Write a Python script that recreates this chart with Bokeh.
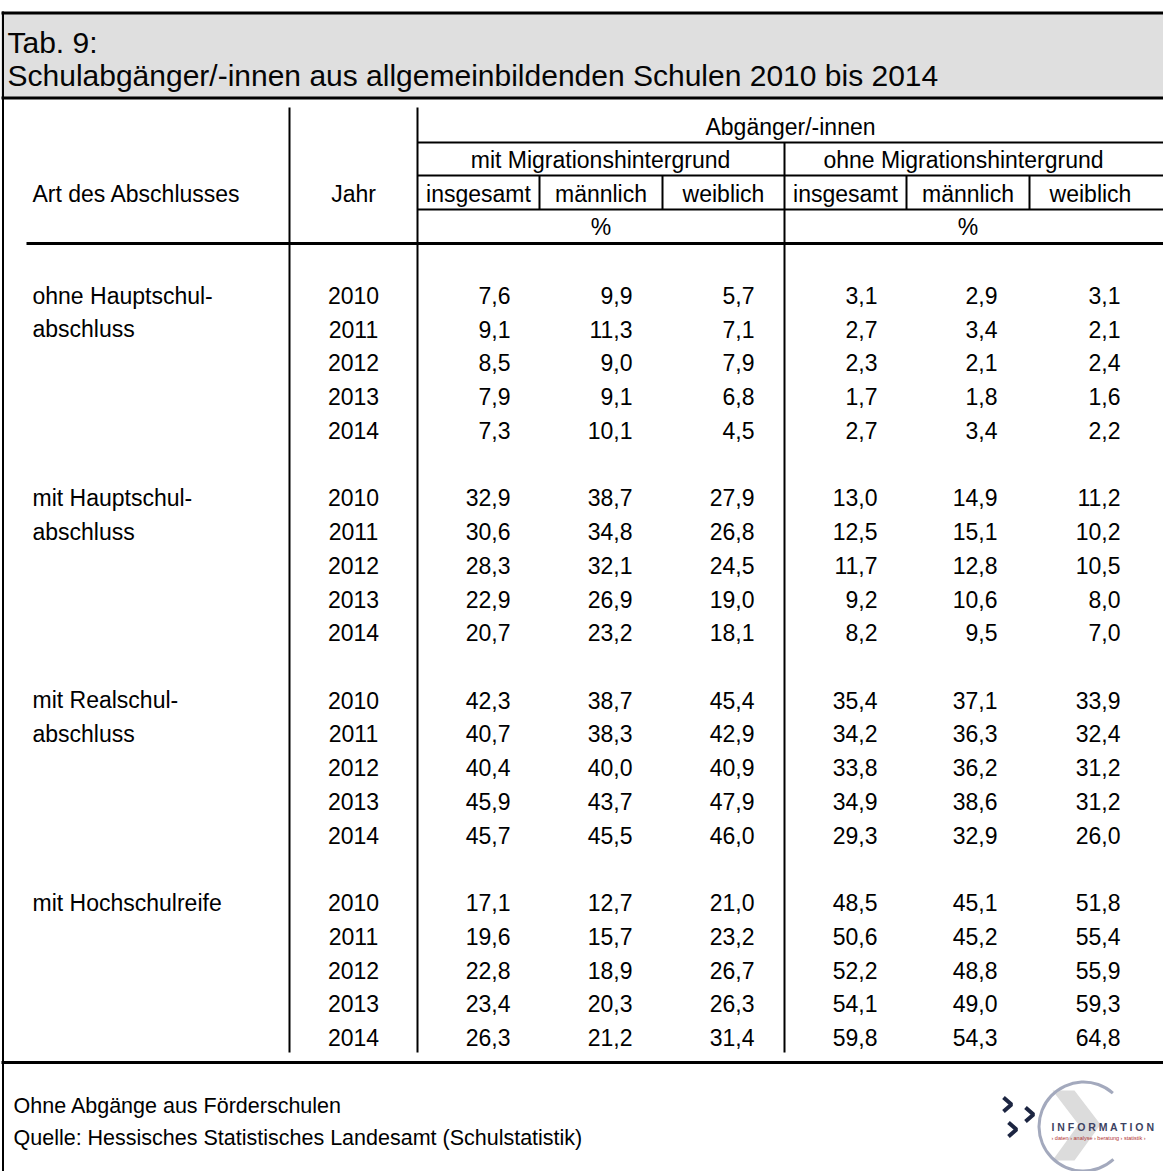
from bokeh.plotting import figure
from bokeh.models import Range1d, ColumnDataSource
from bokeh.embed import file_html
from bokeh.resources import INLINE
from bokeh.core.properties import value

# ---------------- data ----------------
title_line1 = "Tab. 9:"
title_line2 = "Schulabgänger/-innen aus allgemeinbildenden Schulen 2010 bis 2014"
stub_header = "Art des Abschlusses"
year_header = "Jahr"
top_header = "Abgänger/-innen"
group_headers = ["mit Migrationshintergrund", "ohne Migrationshintergrund"]
sub_headers = ["insgesamt", "männlich", "weiblich"]
unit_label = "%"
categories = [["ohne Hauptschul-", "abschluss"],
              ["mit Hauptschul-", "abschluss"],
              ["mit Realschul-", "abschluss"],
              ["mit Hochschulreife"]]
years = ["2010", "2011", "2012", "2013", "2014"]

mit_insgesamt = [7.6, 9.1, 8.5, 7.9, 7.3,
                 32.9, 30.6, 28.3, 22.9, 20.7,
                 42.3, 40.7, 40.4, 45.9, 45.7,
                 17.1, 19.6, 22.8, 23.4, 26.3]
mit_maennlich = [9.9, 11.3, 9.0, 9.1, 10.1,
                 38.7, 34.8, 32.1, 26.9, 23.2,
                 38.7, 38.3, 40.0, 43.7, 45.5,
                 12.7, 15.7, 18.9, 20.3, 21.2]
mit_weiblich = [5.7, 7.1, 7.9, 6.8, 4.5,
                27.9, 26.8, 24.5, 19.0, 18.1,
                45.4, 42.9, 40.9, 47.9, 46.0,
                21.0, 23.2, 26.7, 26.3, 31.4]
ohne_insgesamt = [3.1, 2.7, 2.3, 1.7, 2.7,
                  13.0, 12.5, 11.7, 9.2, 8.2,
                  35.4, 34.2, 33.8, 34.9, 29.3,
                  48.5, 50.6, 52.2, 54.1, 59.8]
ohne_maennlich = [2.9, 3.4, 2.1, 1.8, 3.4,
                  14.9, 15.1, 12.8, 10.6, 9.5,
                  37.1, 36.3, 36.2, 38.6, 32.9,
                  45.1, 45.2, 48.8, 49.0, 54.3]
ohne_weiblich = [3.1, 2.1, 2.4, 1.6, 2.2,
                 11.2, 10.2, 10.5, 8.0, 7.0,
                 33.9, 32.4, 31.2, 31.2, 26.0,
                 51.8, 55.4, 55.9, 59.3, 64.8]

footnote1 = "Ohne Abgänge aus Förderschulen"
footnote2 = "Quelle: Hessisches Statistisches Landesamt (Schulstatistik)"
logo_word = "I N F O R M A T I O N"
logo_sub = "› daten › analyse › beratung › statistik ›"

# ---------------- layout (reference pixel coordinates) ----------------
FONT = value("Liberation Sans")
BODY = "23px"
W, H = 1163, 1171

col_edges = [417, 539, 662, 784, 906, 1029, 1151]
value_right = [510, 632, 754, 877, 997, 1120]
row_y0 = 295.0
row_pitch = 33.73
line_end = 1170

p = figure(width=W, height=H, x_range=Range1d(0, W), y_range=Range1d(H, 0),
           output_backend="svg", toolbar_location=None, min_border=0,
           x_axis_type=None, y_axis_type=None, outline_line_color=None,
           background_fill_color="white", border_fill_color="white")
p.xgrid.visible = False
p.ygrid.visible = False

# title band
p.quad(left=[0], right=[line_end], top=[12], bottom=[98], fill_color="#dfdfdf", line_color=None)
p.segment(x0=[1, 1], y0=[12.5, 97.5], x1=[line_end, line_end], y1=[12.5, 97.5],
          line_color="black", line_width=3)
# left border
p.segment(x0=[2.5], y0=[11], x1=[2.5], y1=[1175], line_color="black", line_width=2)
p.text(x=[7, 7], y=[42, 75], text=[title_line1, title_line2], text_font=FONT,
       text_font_size="30px", text_color="#050505",
       text_align="left", text_baseline="middle")

# table rules
hx0 = [417, 417, 417, 26, 1]
hy = [142, 175, 209, 243, 1062]
hx1 = [line_end] * 5
hw = [2, 2, 2, 3, 3]
p.segment(x0=hx0, y0=hy, x1=hx1, y1=hy, line_color="black", line_width=hw)
vx = [289, 417, 784, 539, 662, 906, 1029]
vy0 = [107, 107, 142, 175, 175, 175, 175]
vy1 = [1052, 1052, 1052, 209, 209, 209, 209]
p.segment(x0=vx, y0=vy0, x1=vx, y1=vy1, line_color="black", line_width=2)

# header texts
hdr_x, hdr_y, hdr_t, hdr_a = [], [], [], []
hdr_x += [32, 353, 790]; hdr_y += [193, 193, 126]; hdr_t += [stub_header, year_header, top_header]
hdr_a += ["left", "center", "center"]
group_centers = [600, 963]
for g, gh in enumerate(group_headers):
    hdr_x.append(group_centers[g]); hdr_y.append(159); hdr_t.append(gh); hdr_a.append("center")
    hdr_x.append(col_edges[3 * g + 1] + (col_edges[3 * g + 2] - col_edges[3 * g + 1]) / 2)
    hdr_y.append(226); hdr_t.append(unit_label); hdr_a.append("center")
    for k, sh in enumerate(sub_headers):
        c = 3 * g + k
        hdr_x.append((col_edges[c] + col_edges[c + 1]) / 2)
        hdr_y.append(193); hdr_t.append(sh); hdr_a.append("center")
p.text(x="x", y="y", text="t", text_align="a",
       source=ColumnDataSource(dict(x=hdr_x, y=hdr_y, t=hdr_t, a=hdr_a)),
       text_font=FONT, text_font_size=BODY, text_color="black", text_baseline="middle")

# body
series = [mit_insgesamt, mit_maennlich, mit_weiblich, ohne_insgesamt, ohne_maennlich, ohne_weiblich]
bx, by, bt = [], [], []
yx, yy, yt = [], [], []
cx, cy, ct = [], [], []
for g, cat in enumerate(categories):
    for r, yr in enumerate(years):
        i = g * len(years) + r
        y = row_y0 + (g * (len(years) + 1) + r) * row_pitch
        yx.append(353); yy.append(y); yt.append(yr)
        for c, s in enumerate(series):
            bx.append(value_right[c]); by.append(y)
            bt.append(f"{s[i]:.1f}".replace(".", ","))
    for j, line in enumerate(cat):
        cx.append(32); cy.append(row_y0 + (g * (len(years) + 1) + j) * row_pitch); ct.append(line)

p.text(x=bx, y=by, text=bt, text_font=FONT, text_font_size=BODY, text_color="black",
       text_align="right", text_baseline="middle")
p.text(x=yx, y=yy, text=yt, text_font=FONT, text_font_size=BODY, text_color="black",
       text_align="center", text_baseline="middle")
p.text(x=cx, y=cy, text=ct, text_font=FONT, text_font_size=BODY, text_color="black",
       text_align="left", text_baseline="middle")

# footnotes
p.text(x=[13, 13], y=[1105, 1137], text=[footnote1, footnote2], text_font=FONT,
       text_font_size="21.5px", text_color="black", text_align="left", text_baseline="middle")

# logo (decorative)
p.patch(x=[1052, 1074, 1100, 1074, 1052, 1078], y=[1090, 1090, 1124, 1160, 1160, 1124],
        fill_color="#dcdcdc", line_color=None)
p.annular_wedge(x=[1083], y=[1126], inner_radius=43, outer_radius=46,
                start_angle=0.85, end_angle=5.45, direction="anticlock",
                fill_color="#a3a9bd", line_color=None)
chev_cx = [1007, 1029, 1012]
chev_cy = [1104, 1114, 1129]
p.multi_line(xs=[[x - 4, x + 4, x - 4] for x in chev_cx],
             ys=[[y - 7, y, y + 7] for y in chev_cy],
             line_color="#1c2541", line_width=4)
p.text(x=[1051], y=[1126], text=[logo_word], text_font=FONT, text_font_size="10.5px",
       text_font_style="bold", text_color="#3c4262", text_align="left", text_baseline="middle")
p.text(x=[1051], y=[1137], text=[logo_sub], text_font=FONT, text_font_size="5.5px",
       text_color="#b03030", text_align="left", text_baseline="middle")

open("out.html", "w").write(file_html(p, INLINE))
